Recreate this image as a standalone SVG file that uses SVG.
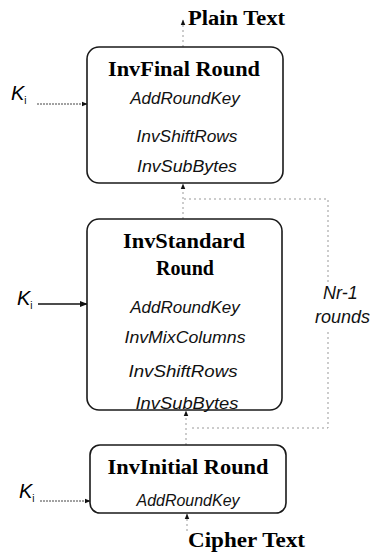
<svg xmlns="http://www.w3.org/2000/svg" width="372" height="554" viewBox="0 0 372 554">
<style>
.box{fill:#fff;stroke:#1a1a1a;stroke-width:1.6}
.title{font-family:"Liberation Serif",serif;font-weight:bold;font-size:20px;fill:#000;text-anchor:middle}
.op{font-family:"Liberation Sans",sans-serif;font-style:italic;font-size:17px;fill:#111;text-anchor:middle}
.key{font-family:"Liberation Sans",sans-serif;font-style:italic;font-size:20px;fill:#000}
.sub{font-size:10px;font-style:normal}
.lbl{font-family:"Liberation Sans",sans-serif;font-style:italic;font-size:18px;fill:#111}
.io{font-family:"Liberation Serif",serif;font-weight:bold;font-size:20px;fill:#000}
.solid{stroke:#111;stroke-width:1.3;fill:none}
.thin{stroke:#444;stroke-width:1;fill:none;stroke-dasharray:2 1}
.faint{stroke:#999;stroke-width:1;fill:none;stroke-dasharray:2 3}
</style>
<defs>
<marker id="ah" viewBox="0 0 10 10" refX="9" refY="5" markerWidth="6" markerHeight="6" orient="auto">
<path d="M0,1 L10,5 L0,9 z" fill="#111"/>
</marker>
</defs>
<g id="connectors">
<line class="faint" x1="183" y1="47" x2="183" y2="20" marker-end="url(#ah)"/>
<line class="thin" x1="37" y1="104" x2="87" y2="104" marker-end="url(#ah)"/>
<line class="faint" x1="183" y1="219" x2="183" y2="184" marker-end="url(#ah)"/>
<line class="solid" x1="38" y1="304" x2="87" y2="304" marker-end="url(#ah)"/>
<polyline class="faint" points="192,428 328,428 328,332"/>
<polyline class="faint" points="328,282 328,199 183,199"/>
<line class="faint" x1="186" y1="445" x2="186" y2="411" marker-end="url(#ah)"/>
<line class="thin" x1="40" y1="501" x2="90" y2="501" marker-end="url(#ah)"/>
<line class="faint" x1="187" y1="531" x2="187" y2="514" marker-end="url(#ah)"/>
</g>
<g id="plain-text"><text class="io" x="188" y="25" textLength="97" lengthAdjust="spacingAndGlyphs">Plain Text</text></g>
<g id="cipher-text"><text class="io" x="188" y="547" textLength="117" lengthAdjust="spacingAndGlyphs">Cipher Text</text></g>
<g id="inv-final-round">
<rect class="box" x="87" y="47" width="196" height="136" rx="12"/>
<text class="title" x="184" y="76" textLength="152" lengthAdjust="spacingAndGlyphs">InvFinal Round</text>
<text class="op" x="185" y="104">AddRoundKey</text>
<text class="op" x="187" y="142" textLength="101" lengthAdjust="spacingAndGlyphs">InvShiftRows</text>
<text class="op" x="187" y="172" textLength="100" lengthAdjust="spacingAndGlyphs">InvSubBytes</text>
</g>
<g id="inv-standard-round">
<rect class="box" x="87" y="219" width="195" height="191" rx="12"/>
<text class="title" x="184" y="248" textLength="122" lengthAdjust="spacingAndGlyphs">InvStandard</text>
<text class="title" x="185" y="275">Round</text>
<text class="op" x="185" y="313">AddRoundKey</text>
<text class="op" x="185" y="343" textLength="121" lengthAdjust="spacingAndGlyphs">InvMixColumns</text>
<text class="op" x="183" y="377" textLength="109" lengthAdjust="spacingAndGlyphs">InvShiftRows</text>
<text class="op" x="187" y="409" textLength="103" lengthAdjust="spacingAndGlyphs">InvSubBytes</text>
</g>
<g id="inv-initial-round">
<rect class="box" x="90" y="445" width="196" height="68" rx="10"/>
<text class="title" x="188" y="474" textLength="161" lengthAdjust="spacingAndGlyphs">InvInitial Round</text>
<text class="op" x="188" y="506" font-size="15" textLength="103" lengthAdjust="spacingAndGlyphs">AddRoundKey</text>
</g>
<g id="key-1"><text class="key" x="11" y="100">K<tspan class="sub" dy="4">i</tspan></text></g>
<g id="key-2"><text class="key" x="17" y="305">K<tspan class="sub" dy="4">i</tspan></text></g>
<g id="key-3"><text class="key" x="19" y="498">K<tspan class="sub" dy="4">i</tspan></text></g>
<g id="rounds-label">
<text class="lbl" x="323" y="299">Nr-1</text>
<text class="lbl" x="315" y="323">rounds</text>
</g>
</svg>
